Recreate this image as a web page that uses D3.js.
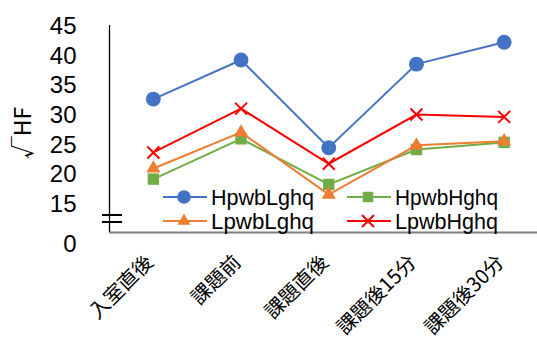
<!DOCTYPE html>
<html>
<head>
<meta charset="utf-8">
<script src="https://cdn.jsdelivr.net/npm/d3@7"></script>
<style>
  html, body { margin: 0; padding: 0; background: #fff; }
  svg { display: block; }
  text { font-family: "Liberation Sans", "Noto Sans CJK JP", sans-serif; fill: #000; }
</style>
</head>
<body>
<svg id="chart" width="537" height="342"></svg>
<script>
// Time points (x categories)
const categories = ["入室直後", "課題前", "課題直後", "課題後15分", "課題後30分"];

// Series values (√HF)
const seriesNames = ["HpwbLghq", "HpwbHghq", "LpwbLghq", "LpwbHghq"];
const hpwbLghq = [32.5, 39.1, 24.3, 38.4, 42.1];
const hpwbHghq = [19.0, 25.8, 18.1, 24.0, 25.2];
const lpwbLghq = [20.8, 26.9, 16.4, 24.7, 25.4];
const lpwbHghq = [23.5, 30.9, 21.6, 29.9, 29.5];

// Y tick labels (the axis is broken between 0 and 15)
const yTicks = [15, 20, 25, 30, 35, 40, 45];
const yBreakLabel = "0";
const yTitle = "√HF";

const seriesValues = [hpwbLghq, hpwbHghq, lpwbLghq, lpwbHghq];
const colors = ["#4472C4", "#70AD47", "#ED7D31", "#FF0000"];
const markers = ["circle", "square", "triangle", "cross"];

const svg = d3.select("#chart");

const plotLeft = 109.5, plotRight = 548, plotTop = 25, plotBottom = 232.5;

const x = d3.scaleBand().domain(categories).range([plotLeft, plotRight]);
const y = d3.scaleLinear().domain([10, 45]).range([plotBottom, plotTop]);
const cx = c => x(c) + x.bandwidth() / 2;

// Y tick labels
const yAxis = d3.axisLeft(y).tickValues(yTicks).tickSize(0).tickPadding(0);
const gy = svg.append("g").attr("transform", `translate(${plotLeft - 33},0)`).call(yAxis);
gy.select(".domain").remove();
gy.selectAll("text")
  .style("font-family", "'Liberation Sans', sans-serif")
  .style("font-size", "24px")
  .attr("dy", "0.36em")
  .attr("fill", "#000");

// "0" below the break
svg.append("text")
  .attr("x", plotLeft - 33).attr("y", 243)
  .attr("dy", "0.36em")
  .attr("text-anchor", "end")
  .style("font-size", "24px")
  .text(yBreakLabel);

// Y title
svg.append("text")
  .attr("transform", `translate(31,133) rotate(-90)`)
  .attr("text-anchor", "middle")
  .style("font-family", "'Noto Sans CJK JP', sans-serif")
  .style("font-size", "23px")
  .text(yTitle);

// Axis lines
svg.append("line")
  .attr("x1", plotLeft).attr("x2", plotLeft)
  .attr("y1", plotTop).attr("y2", plotBottom)
  .attr("stroke", "#000").attr("stroke-width", 1.3);

svg.append("line")
  .attr("x1", plotLeft).attr("x2", 537)
  .attr("y1", plotBottom).attr("y2", plotBottom)
  .attr("stroke", "#808080").attr("stroke-width", 2);

// Break marks
[215, 222].forEach(by => {
  svg.append("line")
    .attr("x1", 102).attr("x2", 122)
    .attr("y1", by).attr("y2", by)
    .attr("stroke", "#000").attr("stroke-width", 2);
});

// X category labels, rotated
const gx = svg.append("g").attr("transform", `translate(0,${plotBottom})`)
  .call(d3.axisBottom(x).tickSize(0).tickPadding(0));
gx.select(".domain").remove();
gx.selectAll("text")
  .style("font-family", "'Noto Sans CJK JP', sans-serif")
  .style("font-size", "20px")
  .attr("text-anchor", "end")
  .attr("dy", 0)
  .attr("y", 0)
  .attr("transform", "translate(1,31) rotate(-45)")
  .attr("fill", "#000");

// Marker drawing
function drawMarker(g, type, color, size) {
  if (type === "circle") {
    g.append("circle").attr("r", size * 0.62).attr("fill", color);
  } else if (type === "square") {
    const s = size * 0.95;
    g.append("rect").attr("x", -s / 2).attr("y", -s / 2).attr("width", s).attr("height", s).attr("fill", color);
  } else if (type === "triangle") {
    g.append("path").attr("d", d3.symbol(d3.symbolTriangle, size * size * 0.6)()).attr("fill", color);
  } else {
    const h = size * 0.5;
    g.append("path").attr("d", `M${-h},${-h}L${h},${h}M${-h},${h}L${h},${-h}`)
      .attr("stroke", color).attr("stroke-width", 2).attr("fill", "none");
  }
}

const line = d3.line().x(d => cx(d.c)).y(d => y(d.v));

seriesValues.forEach((vals, i) => {
  const pts = vals.map((v, j) => ({ c: categories[j], v }));
  svg.append("path").datum(pts)
    .attr("d", line)
    .attr("fill", "none")
    .attr("stroke", colors[i])
    .attr("stroke-width", 2);
  pts.forEach(p => {
    const g = svg.append("g").attr("transform", `translate(${cx(p.c)},${y(p.v)})`);
    drawMarker(g, markers[i], colors[i], 12);
  });
});

// Legend (two columns)
const legendPos = [[163, 197], [347, 197], [163, 221], [347, 221]];
seriesNames.forEach((name, i) => {
  const [lx, ly] = legendPos[i];
  const g = svg.append("g").attr("transform", `translate(${lx},${ly})`);
  g.append("line").attr("x1", 0).attr("x2", 44).attr("y1", 0).attr("y2", 0)
    .attr("stroke", colors[i]).attr("stroke-width", 2);
  const m = g.append("g").attr("transform", "translate(21,0)");
  drawMarker(m, markers[i], colors[i], i === 3 ? 12 : 11);
  g.append("text").attr("x", 48).attr("y", 0).attr("dy", "0.36em")
    .style("font-size", "21.4px")
    .attr("textLength", 103)
    .attr("lengthAdjust", "spacingAndGlyphs")
    .text(name);
});
</script>
</body>
</html>
